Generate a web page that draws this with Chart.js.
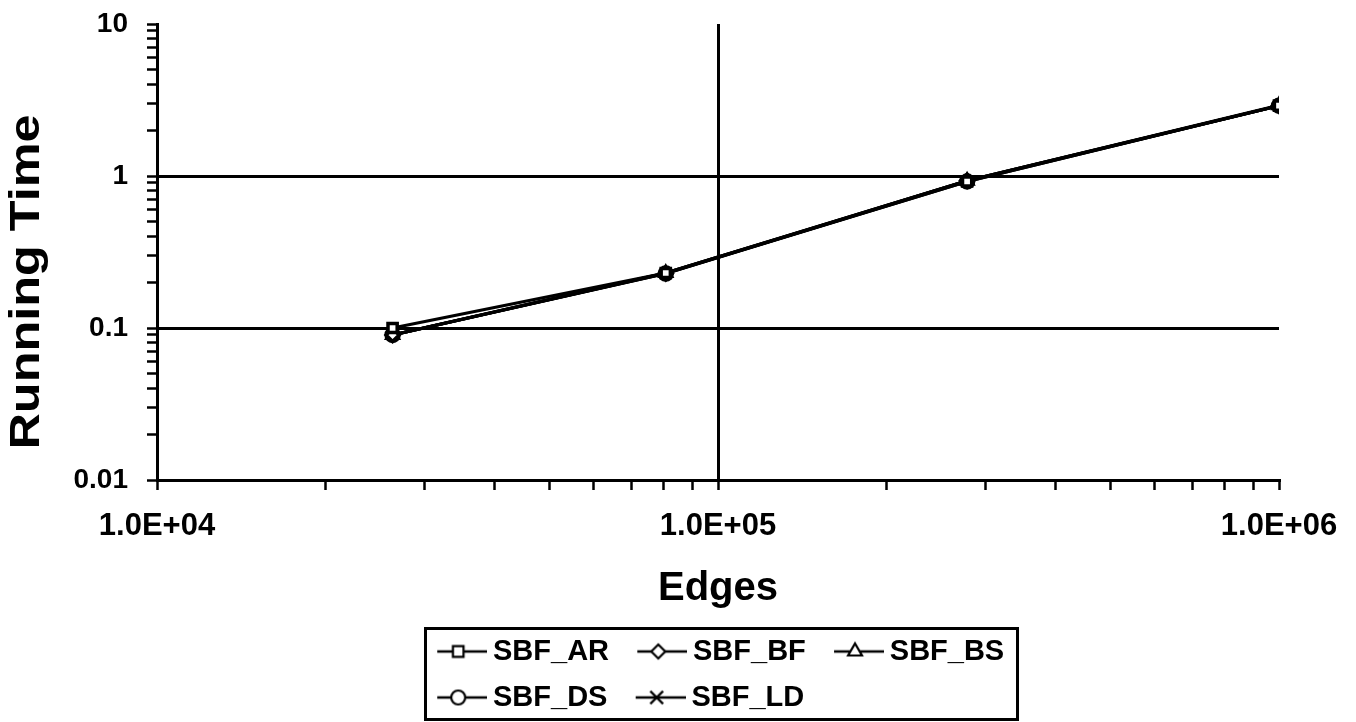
<!DOCTYPE html>
<html>
<head>
<meta charset="utf-8">
<title>Running Time vs Edges</title>
<script src="https://cdn.jsdelivr.net/npm/chart.js@4.4.1/dist/chart.umd.min.js"></script>
<style>
  html, body { margin: 0; padding: 0; background: #ffffff; }
  #wrap { width: 1356px; height: 722px; }
</style>
</head>
<body>
<div id="wrap"><canvas id="chart" width="1356" height="722"></canvas></div>
<script>
// Number of edges in each test graph
const EDGES = [26300, 80700, 278000, 1000000];

// Running time of each algorithm variant
const SBF_AR = [0.100, 0.230, 0.92, 2.90];
const SBF_BF = [0.090, 0.228, 0.93, 2.90];
const SBF_BS = [0.090, 0.230, 0.93, 2.92];
const SBF_DS = [0.090, 0.228, 0.92, 2.90];
const SBF_LD = [0.090, 0.230, 0.93, 2.90];

const SERIES_NAMES = ['SBF_AR', 'SBF_BF', 'SBF_BS', 'SBF_DS', 'SBF_LD'];
const SERIES_VALUES = [SBF_AR, SBF_BF, SBF_BS, SBF_DS, SBF_LD];
const SERIES_MARKERS = ['rect', 'rectRot', 'triangle', 'circle', 'crossRot'];

// Labelled decades on each axis
const X_TICK_LABELS = ['1.0E+04', '1.0E+05', '1.0E+06'];
const Y_TICK_LABELS = ['0.01', '0.1', '1', '10'];

const X_TITLE = 'Edges';
const Y_TITLE = 'Running Time';

const FONT_FAMILY = "'Liberation Sans', Arial, Helvetica, sans-serif";

// 1..9 times every decade between the first and last labelled value
function logTicks(labels) {
  const majors = labels.map(parseFloat);
  const out = [];
  for (let d = 0; d < majors.length - 1; d++) {
    for (let k = 1; k <= 9; k++) {
      out.push({ value: Number((majors[d] * k).toPrecision(12)), major: k === 1 });
    }
  }
  out.push({ value: majors[majors.length - 1], major: true });
  return out;
}

function labelFor(labels, value) {
  const hit = labels.find(l => Math.abs(parseFloat(l) - value) / value < 1e-9);
  return hit === undefined ? '' : hit;
}

function interiorMajor(labels, value) {
  const majors = labels.map(parseFloat);
  const i = majors.findIndex(m => Math.abs(m - value) / value < 1e-9);
  return i > 0 && i < majors.length - 1;
}

// Legend key: a short line with the series marker in its middle
const KEY_RADIUS = { rect: 7.5, rectRot: 7, triangle: 8, circle: 7, crossRot: 9 };
function legendSymbol(style) {
  const c = document.createElement('canvas');
  c.width = 70; c.height = 24;
  const g = c.getContext('2d');
  g.strokeStyle = '#000';
  g.lineWidth = 2.5;
  g.beginPath(); g.moveTo(20, 12); g.lineTo(70, 12); g.stroke();
  g.fillStyle = '#fff';
  g.lineWidth = 2.2;
  Chart.helpers.drawPoint(g, { pointStyle: style, radius: KEY_RADIUS[style], rotation: 0, borderWidth: 2.2 }, 41, 12);
  return c;
}

const datasets = SERIES_NAMES.map((name, i) => ({
  label: name,
  data: EDGES.map((x, j) => ({ x, y: SERIES_VALUES[i][j] })),
  borderColor: '#000',
  borderWidth: 3,
  tension: 0,
  fill: false,
  pointStyle: SERIES_MARKERS[i],
  pointRadius: 6.5,
  pointBorderWidth: 3.5,
  pointBorderColor: '#000',
  pointBackgroundColor: '#fff'
}));

// Places the legend block under the axis title and draws its frame
const legendFrame = {
  id: 'legendFrame',
  afterLayout(chart) {
    const lg = chart.legend;
    lg.left = 409; lg.right = 1100; lg.width = 691;
    lg.top = 620; lg.bottom = 722; lg.height = 102;
  },
  afterDraw(chart) {
    const ctx = chart.ctx;
    ctx.save();
    ctx.strokeStyle = '#000';
    ctx.lineWidth = 3;
    ctx.strokeRect(425.5, 628.5, 592, 91);
    ctx.restore();
  }
};

// Vertical axis title, set in a wide bold face beside the value labels
const yAxisTitle = {
  id: 'yAxisTitle',
  afterDraw(chart) {
    const ctx = chart.ctx;
    ctx.save();
    ctx.translate(27, 282);
    ctx.rotate(-Math.PI / 2);
    ctx.scale(1.2, 1);
    ctx.font = 'bold 42px ' + FONT_FAMILY;
    ctx.fillStyle = '#000';
    ctx.textAlign = 'center';
    ctx.textBaseline = 'middle';
    ctx.fillText(Y_TITLE, 0, 0);
    ctx.restore();
  }
};

Chart.defaults.font.family = FONT_FAMILY;
Chart.defaults.font.weight = 'bold';
Chart.defaults.color = '#000';

new Chart(document.getElementById('chart'), {
  type: 'line',
  data: { datasets },
  plugins: [legendFrame, yAxisTitle],
  options: {
    responsive: false,
    animation: false,
    devicePixelRatio: 1,
    layout: { padding: { left: 0, top: 24, right: 77, bottom: 0 } },
    plugins: {
      tooltip: { enabled: false },
      legend: {
        position: 'bottom',
        align: 'start',
        maxHeight: 2,
        labels: {
          usePointStyle: true,
          pointStyleWidth: 52.5,
          padding: 17,
          color: '#000',
          font: { size: 29, weight: 'bold', family: FONT_FAMILY },
          generateLabels(chart) {
            return chart.data.datasets.map((ds, i) => ({
              text: ds.label,
              pointStyle: legendSymbol(SERIES_MARKERS[i]),
              fillStyle: '#fff',
              strokeStyle: '#000',
              lineWidth: 0,
              hidden: false,
              datasetIndex: i,
              fontColor: '#000'
            }));
          }
        }
      }
    },
    scales: {
      x: {
        type: 'logarithmic',
        min: parseFloat(X_TICK_LABELS[0]),
        max: parseFloat(X_TICK_LABELS[X_TICK_LABELS.length - 1]),
        afterBuildTicks: s => { s.ticks = logTicks(X_TICK_LABELS); },
        afterFit: s => { s.height = 240; s.paddingLeft = 0; s.paddingRight = 0; },
        border: { color: '#000', width: 3 },
        grid: {
          color: c => (c.tick && interiorMajor(X_TICK_LABELS, c.tick.value)) ? '#000' : 'rgba(0,0,0,0)',
          lineWidth: 3,
          tickColor: '#000',
          tickWidth: 2.5,
          tickLength: 10
        },
        ticks: {
          autoSkip: false,
          maxRotation: 0,
          padding: 18,
          color: '#000',
          font: { size: 31, weight: 'bold' },
          callback: v => labelFor(X_TICK_LABELS, v)
        },
        title: {
          display: true,
          text: X_TITLE,
          color: '#000',
          font: { size: 40, weight: 'bold' },
          padding: { top: 0, bottom: 107 }
        }
      },
      y: {
        type: 'logarithmic',
        min: parseFloat(Y_TICK_LABELS[0]),
        max: parseFloat(Y_TICK_LABELS[Y_TICK_LABELS.length - 1]),
        afterBuildTicks: s => { s.ticks = logTicks(Y_TICK_LABELS); },
        afterFit: s => { s.width = 157; s.paddingTop = 0; s.paddingBottom = 0; },
        border: { color: '#000', width: 3 },
        grid: {
          color: c => (c.tick && interiorMajor(Y_TICK_LABELS, c.tick.value)) ? '#000' : 'rgba(0,0,0,0)',
          lineWidth: 3,
          tickColor: '#000',
          tickWidth: 2.5,
          tickLength: 10
        },
        ticks: {
          autoSkip: false,
          padding: 19,
          color: '#000',
          font: { size: 28, weight: 'bold' },
          callback: v => labelFor(Y_TICK_LABELS, v)
        },
        title: { display: false }
      }
    }
  }
});
</script>
</body>
</html>
